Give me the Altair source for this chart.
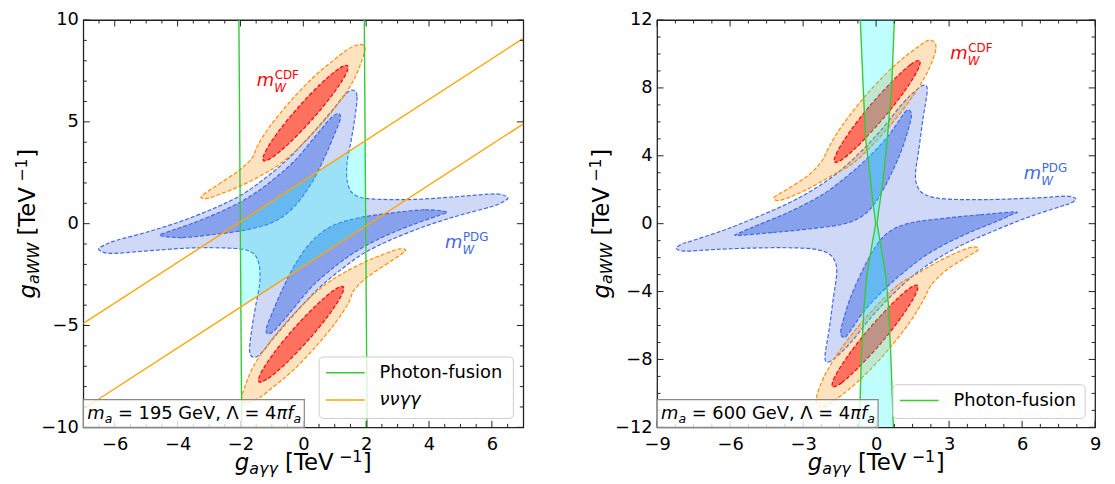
import altair as alt
import pandas as pd

FONT = "DejaVu Sans"

# ================= LEFT PANEL (m_a = 195 GeV) =================
L_xdom = [-7, 7]
L_ydom = [-10, 10]
L_xticks = [-6, -4, -2, 0, 2, 4, 6]
L_yticks = [-10, -5, 0, 5, 10]

# PDG 2-sigma (outer, cross-shaped)
L_pdg2_x = [1.60, 1.71, 1.64, 1.52, 1.39, 1.41, 1.62, 2.15, 3.52, 5.09, 6.14, 6.51, 6.30, 5.95, 4.90, 3.85, 2.79, 1.95, 1.22, 0.48, -0.26, -0.89, -1.36,
            -1.60, -1.71, -1.64, -1.52, -1.39, -1.41, -1.62, -2.15, -3.52, -5.09, -6.14, -6.51, -6.30, -5.95, -4.90, -3.85, -2.79, -1.95, -1.22, -0.48, 0.26, 0.89, 1.36]
L_pdg2_y = [6.55, 6.23, 5.19, 4.07, 2.95, 1.99, 1.43, 1.22, 1.19, 1.35, 1.46, 1.27, 1.03, 0.82, 0.38, -0.14, -0.79, -1.43, -2.23, -3.19, -4.39, -5.51, -6.39,
            -6.55, -6.23, -5.19, -4.07, -2.95, -1.99, -1.43, -1.22, -1.19, -1.35, -1.46, -1.27, -1.03, -0.82, -0.38, 0.14, 0.79, 1.43, 2.23, 3.19, 4.39, 5.51, 6.39]
# PDG 1-sigma lobes
L_pdg1a_x = [-4.56, -3.85, -2.79, -1.74, -0.90, -0.27, 0.26, 0.68, 0.99, 1.18, 1.12, 0.89, 0.36, -0.27, -1.01, -1.74, -2.58, -3.53, -4.27]
L_pdg1a_y = [-0.58, -0.68, -0.52, -0.28, 0.12, 0.87, 1.99, 3.27, 4.39, 5.15, 5.40, 5.20, 4.25, 3.10, 2.10, 1.30, 0.62, 0.02, -0.38]
L_pdg1b_x = [4.56, 3.85, 2.79, 1.74, 0.90, 0.27, -0.26, -0.68, -0.99, -1.18, -1.12, -0.89, -0.36, 0.27, 1.01, 1.74, 2.58, 3.53, 4.27]
L_pdg1b_y = [0.58, 0.68, 0.52, 0.28, -0.12, -0.87, -1.99, -3.27, -4.39, -5.15, -5.40, -5.20, -4.25, -3.10, -2.10, -1.30, -0.62, -0.02, 0.38]
# CDF 2-sigma
L_cdf2a_x = [-3.24, -2.69, -2.06, -1.62, -1.44, -1.03, -0.39, 0.31, 0.88, 1.40, 1.80, 1.96, 1.88, 1.62, 1.17, 0.53, -0.17, -0.74, -1.30, -2.00, -2.60, -3.05]
L_cdf2a_y = [1.35, 1.94, 2.60, 3.25, 3.88, 4.85, 6.05, 7.18, 7.92, 8.55, 8.80, 8.62, 8.10, 7.10, 6.02, 4.81, 3.69, 2.94, 2.40, 1.85, 1.48, 1.24]
L_cdf2b_x = [3.24, 2.69, 2.06, 1.62, 1.44, 1.03, 0.39, -0.31, -0.88, -1.40, -1.80, -1.96, -1.88, -1.62, -1.17, -0.53, 0.17, 0.74, 1.30, 2.00, 2.60, 3.05]
L_cdf2b_y = [-1.35, -1.94, -2.60, -3.25, -3.88, -4.85, -6.05, -7.18, -7.92, -8.55, -8.80, -8.62, -8.10, -7.10, -6.02, -4.81, -3.69, -2.94, -2.40, -1.85, -1.48, -1.24]
# CDF 1-sigma
L_cdf1a_x = [1.41, 1.12, 0.55, -0.15, -0.79, -1.20, -1.27, -0.98, -0.41, 0.29, 0.93, 1.34]
L_cdf1a_y = [7.76, 7.60, 6.86, 5.73, 4.53, 3.56, 3.10, 3.26, 4.01, 5.13, 6.34, 7.30]
L_cdf1b_x = [-1.41, -1.12, -0.55, 0.15, 0.79, 1.20, 1.27, 0.98, 0.41, -0.29, -0.93, -1.34]
L_cdf1b_y = [-7.76, -7.60, -6.86, -5.73, -4.53, -3.56, -3.10, -3.26, -4.01, -5.13, -6.34, -7.30]
# allowed region (cyan)
L_cyan_x = [-2.00, 1.97, 1.99, -1.99]
L_cyan_y = [0.10, 4.07, -0.11, -4.09]
# photon-fusion lines
L_pf_y = [10, -10]
L_pf1_x = [-2.05, -1.96]
L_pf2_x = [1.94, 2.03]
# nu nu gamma gamma lines
L_nn_x = [-7, 7]
L_nn1_y = [-4.9, 9.1]
L_nn2_y = [-9.1, 4.9]

# ================= RIGHT PANEL (m_a = 600 GeV) =================
R_xdom = [-9, 9]
R_ydom = [-12, 12]
R_xticks = [-9, -6, -3, 0, 3, 6, 9]
R_yticks = [-12, -8, -4, 0, 4, 8, 12]

R_pdg2_x = [2.02, 2.10, 1.93, 1.75, 1.62, 1.70, 2.02, 2.81, 4.57, 6.61, 7.83, 8.21, 7.97, 7.64, 6.29, 4.93, 3.57, 2.48, 1.53, 0.58, -0.23, -1.04, -1.72,
            -2.02, -2.10, -1.93, -1.75, -1.62, -1.70, -2.02, -2.81, -4.57, -6.61, -7.83, -8.21, -7.97, -7.64, -6.29, -4.93, -3.57, -2.48, -1.53, -0.58, 0.23, 1.04, 1.72]
R_pdg2_y = [8.15, 7.77, 6.23, 4.31, 2.96, 2.19, 1.71, 1.46, 1.42, 1.52, 1.62, 1.46, 1.19, 1.04, 0.40, -0.37, -1.23, -2.10, -3.06, -4.31, -5.56, -7.00, -7.96,
            -8.15, -7.77, -6.23, -4.31, -2.96, -2.19, -1.71, -1.46, -1.42, -1.52, -1.62, -1.46, -1.19, -1.04, -0.40, 0.37, 1.23, 2.10, 3.06, 4.31, 5.56, 7.00, 7.96]
R_pdg1a_x = [-5.74, -4.25, -2.89, -1.40, -0.58, -0.04, 0.50, 1.04, 1.38, 1.45, 1.30, 1.11, 0.50, -0.31, -1.13, -2.21, -3.57, -4.93, -5.47]
R_pdg1a_y = [-0.69, -0.52, -0.33, -0.04, 0.44, 1.23, 2.58, 4.31, 5.85, 6.50, 6.70, 6.42, 5.17, 3.92, 2.87, 1.71, 0.69, -0.12, -0.46]
R_pdg1b_x = [5.74, 4.25, 2.89, 1.40, 0.58, 0.04, -0.50, -1.04, -1.38, -1.45, -1.30, -1.11, -0.50, 0.31, 1.13, 2.21, 3.57, 4.93, 5.47]
R_pdg1b_y = [0.69, 0.52, 0.33, 0.04, -0.44, -1.23, -2.58, -4.31, -5.85, -6.50, -6.70, -6.42, -5.17, -3.92, -2.87, -1.71, -0.69, 0.12, 0.46]
R_cdf2a_x = [-4.18, -3.57, -2.82, -2.25, -1.92, -1.39, -0.56, 0.36, 1.10, 1.70, 2.05, 2.27, 2.45, 2.42, 2.24, 2.01, 1.48, 0.65, -0.27, -1.01, -1.67, -2.48, -3.30, -3.98]
R_cdf2a_y = [1.56, 2.10, 2.81, 3.65, 4.57, 5.79, 7.33, 8.77, 9.74, 10.40, 10.75, 10.81, 10.55, 10.05, 9.35, 8.66, 7.44, 5.91, 4.46, 3.49, 2.96, 2.29, 1.71, 1.37]
R_cdf2b_x = [4.18, 3.57, 2.82, 2.25, 1.92, 1.39, 0.56, -0.36, -1.10, -1.70, -2.05, -2.27, -2.45, -2.42, -2.24, -2.01, -1.48, -0.65, 0.27, 1.01, 1.67, 2.48, 3.30, 3.98]
R_cdf2b_y = [-1.56, -2.10, -2.81, -3.65, -4.57, -5.79, -7.33, -8.77, -9.74, -10.40, -10.75, -10.81, -10.55, -10.05, -9.35, -8.66, -7.44, -5.91, -4.46, -3.49, -2.96, -2.29, -1.71, -1.37]
R_cdf1a_x = [1.79, 1.41, 0.67, -0.25, -1.08, -1.61, -1.70, -1.32, -0.58, 0.34, 1.17, 1.70]
R_cdf1a_y = [9.60, 9.37, 8.40, 6.96, 5.42, 4.20, 3.63, 3.86, 4.83, 6.28, 7.81, 9.03]
R_cdf1b_x = [-1.79, -1.41, -0.67, 0.25, 1.08, 1.61, 1.70, 1.32, 0.58, -0.34, -1.17, -1.70]
R_cdf1b_y = [-9.60, -9.37, -8.40, -6.96, -5.42, -4.20, -3.63, -3.86, -4.83, -6.28, -7.81, -9.03]
# photon-fusion boundaries (allowed band between them)
R_pf_y = [12, 8, 5, 3, 1.5, 0.6, 0, -0.6, -1.5, -3, -5, -8, -12]
R_pf_xl = [-0.65, -0.53, -0.43, -0.26, -0.15, -0.07, -0.02, -0.09, -0.20, -0.38, -0.50, -0.61, -0.69]
R_pf_xr = [0.75, 0.64, 0.46, 0.32, 0.18, 0.09, 0.04, 0.11, 0.22, 0.39, 0.52, 0.61, 0.71]

# label anchors (data coords)
L_cdf_lab = (-1.48, 6.78)
L_pdg_lab = (4.51, -1.20)
R_cdf_lab = (3.05, 9.69)
R_pdg_lab = (6.07, 2.65)

W, H = 444, 411
W2 = 442

# ---------------- helpers ----------------
EM = {' ': 0.318, '[': 0.390, ']': 0.390, 'T': 0.611, 'e': 0.615, 'V': 0.684, '−': 0.838, '1': 0.636,
      '9': 0.636, '5': 0.636, '6': 0.636, '0': 0.636, '4': 0.636, 'G': 0.775, ',': 0.318, '=': 0.838,
      'Λ': 0.684, 'W': 0.989, 'C': 0.698, 'D': 0.770, 'F': 0.575, 'P': 0.603, 'a': 0.613, 'γ': 0.592,
      'π': 0.602, 'f': 0.352, 'g': 0.635, 'm': 0.974, 'ν': 0.592}
SP = 0.318  # width of a space, em


def tw(s, size):
    return size * sum(EM.get(c, 0.6) for c in s)


ONE = pd.DataFrame({"a": [0]})


def text_px(t, x, y, size, italic=False, color="black", angle=0, align="left", baseline="alphabetic"):
    kw = dict(text=t, align=align, baseline=baseline, font=FONT, fontSize=size,
              fontStyle="italic" if italic else "normal", color=color)
    if angle:
        kw["angle"] = angle
    return alt.Chart(ONE).mark_text(**kw).encode(x=alt.value(x), y=alt.value(y))


# pieces: (text, size, italic, dy, gap_before_px)
def run_len(pieces):
    return sum(tw(t, s) + g for t, s, _, _, g in pieces)


def rich_h(pieces, x, y, center=True):
    if center:
        x = x - run_len(pieces) / 2
    out = []
    for t, s, it, dy, g in pieces:
        x += g
        out.append(text_px(t, x, y + dy, s, it))
        x += tw(t, s)
    return out


def rich_v(pieces, bx, cy):
    y = cy + run_len(pieces) / 2
    out = []
    for t, s, it, dy, g in pieces:
        y -= g
        out.append(text_px(t, bx + dy, y, s, it, angle=270))
        y -= tw(t, s)
    return out


def panel(P):
    w = P["w"]
    xs = alt.Scale(domain=P["xdom"], nice=False, zero=False)
    ys = alt.Scale(domain=P["ydom"], nice=False, zero=False)
    xax = alt.Axis(values=P["xticks"], ticks=False, domain=False, grid=False, title=None,
                   labelFontSize=18, labelFont=FONT, labelColor="black", labelPadding=8,
                   labelFlush=False, labelOverlap=False, format="d")
    yax = alt.Axis(values=P["yticks"], ticks=False, domain=False, grid=False, title=None,
                   labelFontSize=18, labelFont=FONT, labelColor="black", labelPadding=5,
                   labelFlush=False, labelOverlap=False, format="d")

    def X(f):
        return alt.X(f, type="quantitative", scale=xs, axis=xax)

    def Y(f):
        return alt.Y(f, type="quantitative", scale=ys, axis=yax)

    def shape(parts, fill, fop, stroke):
        rows = []
        for pi, (px, py) in enumerate(parts):
            for i, (a, b) in enumerate(zip(px, py)):
                rows.append({"x": a, "y": b, "i": i, "part": pi})
        return alt.Chart(pd.DataFrame(rows)).mark_line(
            interpolate="cardinal-closed", fill=fill, fillOpacity=fop, stroke=stroke,
            strokeWidth=1.2, strokeDash=[4, 2], clip=True
        ).encode(x=X("x"), y=Y("y"), order="i:Q", detail="part:N")

    layers = []
    layers.append(shape([P["pdg2"]], "royalblue", 0.25, "royalblue"))
    layers.append(shape(P["pdg1"], "royalblue", 0.5, "royalblue"))
    layers.append(shape(P["cdf2"], "darkorange", 0.25, "darkorange"))
    layers.append(shape(P["cdf1"], "red", 0.5, "red"))

    if P["kind"] == "L":
        cx, cy = P["cyan"]
        dfc = pd.DataFrame({"x": cx, "y": cy, "i": list(range(len(cx)))})
        layers.append(alt.Chart(dfc).mark_line(interpolate="linear-closed", fill="cyan", fillOpacity=0.25,
                                               stroke="transparent", clip=True)
                      .encode(x=X("x"), y=Y("y"), order="i:Q"))
        for lx in P["pf"]:
            d = pd.DataFrame({"x": lx, "y": P["pf_y"]})
            layers.append(alt.Chart(d).mark_line(color="limegreen", strokeWidth=1.4, clip=True)
                          .encode(x=X("x"), y=Y("y")))
        for ly in P["nn"]:
            d = pd.DataFrame({"x": P["nn_x"], "y": ly})
            layers.append(alt.Chart(d).mark_line(color="orange", strokeWidth=1.4, clip=True)
                          .encode(x=X("x"), y=Y("y")))
    else:
        d = pd.DataFrame({"y": P["pf_y"], "xl": P["pf_xl"], "xr": P["pf_xr"], "i": list(range(len(P["pf_y"])))})
        layers.append(alt.Chart(d).mark_area(orient="horizontal", color="cyan", opacity=0.25, clip=True)
                      .encode(y=Y("y"), x=X("xl"), x2="xr"))
        for col in ["xl", "xr"]:
            layers.append(alt.Chart(d).mark_line(color="limegreen", strokeWidth=1.4, clip=True)
                          .encode(x=X(col), y=Y("y"), order="i:Q"))

    def tick_layers(vals, axis, length):
        df = pd.DataFrame({"v": vals})
        base = alt.Chart(df).mark_rule(color="#222222", strokeWidth=1)
        if axis == "x":
            return [base.encode(x=X("v"), y=alt.value(H), y2=alt.value(H - length)),
                    base.encode(x=X("v"), y=alt.value(0), y2=alt.value(length))]
        return [base.encode(y=Y("v"), x=alt.value(0), x2=alt.value(length)),
                base.encode(y=Y("v"), x=alt.value(w), x2=alt.value(w - length))]

    layers += tick_layers(P["xticks"], "x", 6.5)
    layers += tick_layers(P["xminor"], "x", 3.5)
    layers += tick_layers(P["yticks"], "y", 6.5)
    layers += tick_layers(P["yminor"], "y", 3.5)

    def dlabel(pos, sup, color):
        df = pd.DataFrame({"x": [pos[0]], "y": [pos[1]]})
        base = alt.Chart(df)
        wm = tw("m", 18)
        common = dict(align="left", baseline="alphabetic", font=FONT, color=color)
        return [
            base.mark_text(text="m", fontSize=18, fontStyle="italic", **common).encode(x=X("x"), y=Y("y")),
            base.mark_text(text="W", fontSize=12, fontStyle="italic", dx=wm, dy=6, **common).encode(x=X("x"), y=Y("y")),
            base.mark_text(text=sup, fontSize=12, dx=wm + 0.5, dy=-7, **common).encode(x=X("x"), y=Y("y")),
        ]

    layers += dlabel(P["cdf_lab"], "CDF", "red")
    layers += dlabel(P["pdg_lab"], "PDG", "royalblue")

    # info box
    layers.append(alt.Chart(ONE).mark_rect(fill="white", fillOpacity=0.8, stroke="#888888", strokeWidth=1.2)
                  .encode(x=alt.value(0), x2=alt.value(223), y=alt.value(H - 28), y2=alt.value(H)))
    layers += rich_h([("m", 18, True, 0, 0), ("a", 12.6, True, 4, 0),
                      ("= " + P["mass"] + " GeV, Λ = 4", 18, False, 0, SP * 18),
                      ("πf", 18, True, 0, 0), ("a", 12.6, True, 4, 0)], 4, H - 8, center=False)

    # legend
    lg = P["legend"]
    top = H - 71 if len(lg) == 2 else H - 43
    layers.append(alt.Chart(ONE).mark_rect(fill="white", fillOpacity=0.8, stroke="#cccccc", strokeWidth=1,
                                           cornerRadius=4)
                  .encode(x=alt.value(238), x2=alt.value(w - 10), y=alt.value(top), y2=alt.value(H - 9)))
    for k, (lab, col, it) in enumerate(lg):
        yy = top + 16 + 27.5 * k
        layers.append(alt.Chart(ONE).mark_rule(color=col, strokeWidth=1.5)
                      .encode(x=alt.value(245), x2=alt.value(284), y=alt.value(yy)))
        layers.append(text_px(lab, 299, yy, 18, it, baseline="middle"))

    # axis titles
    layers += rich_h([("g", 23, True, 0, 0), ("aγγ", 16, True, 4, 0), ("[TeV", 23, False, 0, SP * 23),
                      ("−1", 16, False, -8, 1.5), ("]", 23, False, 0, 0.5)], w / 2, 454)
    layers += rich_v([("g", 23, True, 0, 0), ("aWW", 16, True, 4, 0), ("[TeV", 23, False, 0, SP * 23),
                      ("−1", 16, False, -8, 1.5), ("]", 23, False, 0, 0.5)], -49, H / 2)

    return alt.layer(*layers).properties(width=w, height=H)


Lp = dict(kind="L", w=W, xdom=L_xdom, ydom=L_ydom, xticks=L_xticks, yticks=L_yticks,
          xminor=[v / 2 for v in range(-13, 14) if v % 4 != 0],
          yminor=[v for v in range(-9, 10) if v % 5 != 0],
          pdg2=(L_pdg2_x, L_pdg2_y), pdg1=[(L_pdg1a_x, L_pdg1a_y), (L_pdg1b_x, L_pdg1b_y)],
          cdf2=[(L_cdf2a_x, L_cdf2a_y), (L_cdf2b_x, L_cdf2b_y)],
          cdf1=[(L_cdf1a_x, L_cdf1a_y), (L_cdf1b_x, L_cdf1b_y)],
          cyan=(L_cyan_x, L_cyan_y), pf=[L_pf1_x, L_pf2_x], pf_y=L_pf_y,
          nn_x=L_nn_x, nn=[L_nn1_y, L_nn2_y],
          cdf_lab=L_cdf_lab, pdg_lab=L_pdg_lab, mass="195",
          legend=[("Photon-fusion", "limegreen", False), ("ννγγ", "orange", True)])

Rp = dict(kind="R", w=W2, xdom=R_xdom, ydom=R_ydom, xticks=R_xticks, yticks=R_yticks,
          xminor=[v * 0.75 for v in range(-11, 12) if v % 4 != 0],
          yminor=[v for v in range(-11, 12) if v % 4 != 0],
          pdg2=(R_pdg2_x, R_pdg2_y), pdg1=[(R_pdg1a_x, R_pdg1a_y), (R_pdg1b_x, R_pdg1b_y)],
          cdf2=[(R_cdf2a_x, R_cdf2a_y), (R_cdf2b_x, R_cdf2b_y)],
          cdf1=[(R_cdf1a_x, R_cdf1a_y), (R_cdf1b_x, R_cdf1b_y)],
          pf_y=R_pf_y, pf_xl=R_pf_xl, pf_xr=R_pf_xr,
          cdf_lab=R_cdf_lab, pdg_lab=R_pdg_lab, mass="600",
          legend=[("Photon-fusion", "limegreen", False)])

chart = alt.hconcat(panel(Lp), panel(Rp), spacing=135, bounds="flush",
                    padding={"left": 5, "top": 0, "right": 5, "bottom": 0}
                    ).configure_view(stroke="#222222", strokeWidth=1.3)

chart.save("out.html", embed_options={"renderer": "svg", "actions": False})
